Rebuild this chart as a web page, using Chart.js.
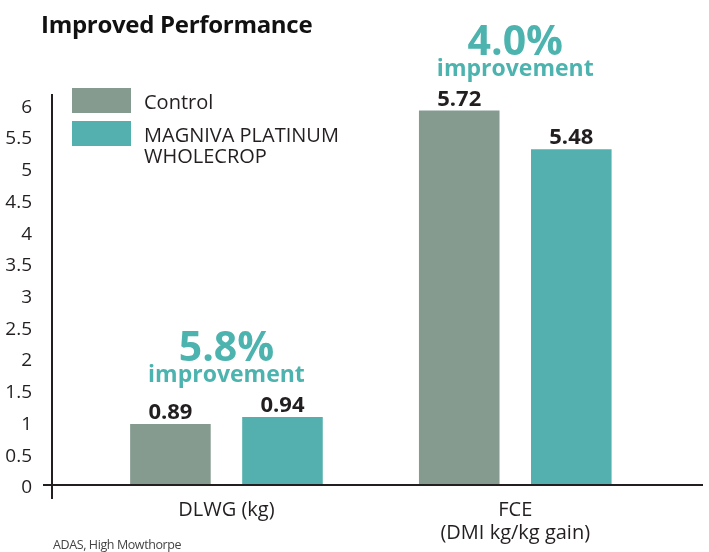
<!DOCTYPE html>
<html>
<head>
<meta charset="utf-8">
<script src="https://cdn.jsdelivr.net/npm/chart.js@4/dist/chart.umd.min.js"></script>
<style>
  body { margin: 0; background: #fff; font-family: 'Open Sans', sans-serif; color: #231f20; }
  #wrap { position: relative; width: 709px; height: 552px; overflow: hidden; }
  #chart { position: absolute; left: 0; top: 0; }
  #title { position: absolute; left: 41px; top: 9px; font-size: 24px; font-weight: 700; line-height: 30px; color: #111; letter-spacing: -0.3px; }
  #legend { position: absolute; left: 72px; top: 88px; }
  .item { display: flex; align-items: flex-start; margin-bottom: 8px; }
  .box { width: 59px; height: 25px; flex: none; }
  .lbl { margin-left: 13px; font-size: 20px; line-height: 21px; margin-top: 3px; width: 220px; }
  #source { position: absolute; left: 53px; top: 536px; font-size: 12.5px; color: #444; letter-spacing: -0.4px; }
</style>
</head>
<body>
<div id="wrap">
  <canvas id="chart" width="709" height="552"></canvas>
  <div id="title">Improved Performance</div>
  <div id="legend"></div>
  <div id="source">ADAS, High Mowthorpe</div>
</div>
<script>
// data
const categories = ['DLWG (kg)', ['FCE', '(DMI kg/kg gain)']];
const seriesNames = ['Control', 'MAGNIVA PLATINUM\nWHOLECROP'];
const controlBars = [0.96, 5.9];      // bar heights as drawn
const magnivaBars = [1.07, 5.29];
const controlLabels = ['0.89', '5.72']; // printed values
const magnivaLabels = ['0.94', '5.48'];
const improvements = ['5.8%', '4.0%'];
const yTicks = [0, 0.5, 1, 1.5, 2, 2.5, 3, 3.5, 4, 4.5, 5, 5.5, 6];

const colors = ['#859b8f', '#53b0ae'];
const teal = '#4db3af';
const ink = '#231f20';

const toPoints = vals => vals.map((v, i) => ({ x: i + 1, y: v }));

// legend
const legend = document.getElementById('legend');
seriesNames.forEach((name, i) => {
    const item = document.createElement('div');
    item.className = 'item';
    const box = document.createElement('div');
    box.className = 'box';
    box.style.background = colors[i];
    const lbl = document.createElement('div');
    lbl.className = 'lbl';
    lbl.innerHTML = name.split('\n').join('<br>');
    item.appendChild(box);
    item.appendChild(lbl);
    legend.appendChild(item);
});

const axisLines = {
    id: 'axisLines',
    afterDraw(chart) {
        const { ctx, chartArea } = chart;
        const y0 = chart.scales.y.getPixelForValue(0);
        ctx.save();
        ctx.strokeStyle = ink;
        ctx.lineWidth = 2;
        ctx.beginPath();
        ctx.moveTo(chartArea.left, chartArea.top);
        ctx.lineTo(chartArea.left, y0 + 14);
        ctx.moveTo(chartArea.left - 9, y0);
        ctx.lineTo(chartArea.right, y0);
        ctx.stroke();
        ctx.restore();
    }
};

const barLabels = {
    id: 'barLabels',
    afterDatasetsDraw(chart) {
        const { ctx } = chart;
        const printed = [controlLabels, magnivaLabels];
        ctx.save();
        ctx.textAlign = 'center';
        ctx.textBaseline = 'alphabetic';
        ctx.fillStyle = ink;
        ctx.font = 'bold 22px "Open Sans"';
        chart.data.datasets.forEach((ds, d) => {
            chart.getDatasetMeta(d).data.forEach((bar, i) => {
                ctx.fillText(printed[d][i], bar.x, bar.y - 5);
            });
        });
        // improvement notes above each group
        const m0 = chart.getDatasetMeta(0).data;
        const m1 = chart.getDatasetMeta(1).data;
        improvements.forEach((txt, i) => {
            const cx = (m0[i].x + m1[i].x) / 2;
            const top = Math.min(m0[i].y, m1[i].y);
            ctx.fillStyle = teal;
            ctx.font = 'bold 41px "Open Sans"';
            ctx.fillText(txt, cx, top - 56);
            ctx.font = 'bold 23px "Open Sans"';
            ctx.fillText('improvement', cx, top - 35);
        });
        ctx.restore();
    }
};

new Chart(document.getElementById('chart'), {
    type: 'bar',
    data: {
        datasets: [
            { label: seriesNames[0], data: toPoints(controlBars), backgroundColor: colors[0] },
            { label: seriesNames[1], data: toPoints(magnivaBars), backgroundColor: colors[1] }
        ]
    },
    options: {
        responsive: false,
        animation: false,
        events: [],
        categoryPercentage: 0.776,
        barPercentage: 0.719,
        layout: { padding: { left: 0, right: 6, top: 94, bottom: 0 } },
        plugins: { legend: { display: false }, tooltip: { enabled: false } },
        scales: {
            x: {
                type: 'linear',
                offset: false,
                min: 0.396,
                max: 2.65,
                grid: { display: false },
                border: { display: false },
                afterBuildTicks: s => { s.ticks = categories.map((c, i) => ({ value: i + 1 })); },
                afterFit: s => { s.height = 67; },
                ticks: {
                    padding: 6,
                    color: ink,
                    font: { family: 'Open Sans', size: 20, lineHeight: 1.15 },
                    maxRotation: 0,
                    autoSkip: false,
                    callback: v => categories[v - 1]
                }
            },
            y: {
                min: 0,
                max: 6.16,
                grid: { display: false },
                border: { display: false },
                afterBuildTicks: s => { s.ticks = yTicks.map(v => ({ value: v })); },
                afterFit: s => { s.width = 52; },
                ticks: {
                    padding: 12,
                    labelOffset: 3,
                    color: ink,
                    font: { family: 'Open Sans', size: 19 },
                    callback: v => String(v)
                }
            }
        }
    },
    plugins: [axisLines, barLabels]
});
</script>
</body>
</html>
